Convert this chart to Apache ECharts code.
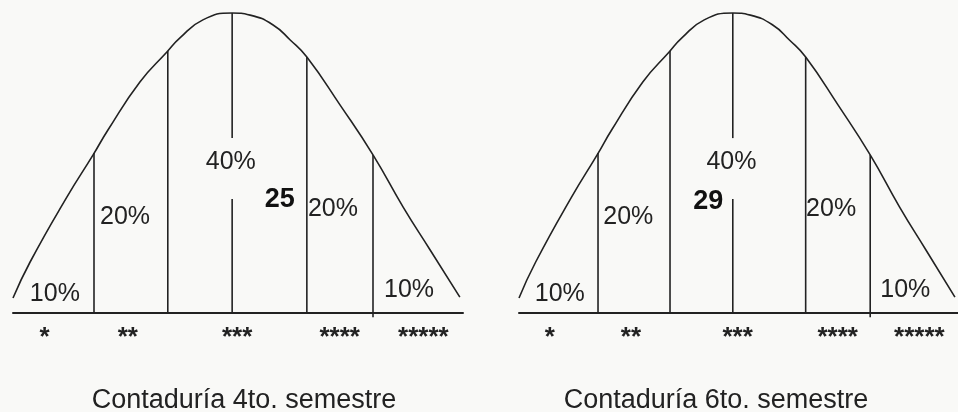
<!DOCTYPE html>
<html>
<head>
<meta charset="utf-8">
<script src="https://cdn.jsdelivr.net/npm/echarts@6/dist/echarts.min.js"></script>
<style>
  html, body { margin: 0; padding: 0; background: #f9f9f7; }
  #chart { width: 958px; height: 412px; }
</style>
</head>
<body>
<div id="chart"></div>
<script>
// bell curve (x: % of base width, y: % of peak height)
const curveX = [0, 3.8, 12, 17.8, 21.1, 28.2, 34.2, 37.1, 42.2, 48.7, 52.7, 57.8, 61.6, 65.3, 72.7, 80, 86.7, 92.7, 99.3];
const curveY = [5, 17, 38.7, 52.7, 61, 77, 87, 91.7, 97.7, 100, 99.3, 96, 91, 85.3, 69.3, 52.7, 35.3, 21, 5.3];

// dividers between the bands
const dividerX = [18, 34.4, 48.7, 65.3, 80];
const dividerTop = [53.3, 87.3, 100, 85.3, 52.7];
const dividerBase = [0, 0, 0, 0, -1.4];
const centerGap = [38, 58.3];   // the middle line is broken around "40%"

// band labels
const bandLabels = ['10%', '20%', '40%', '20%', '10%'];
const bandX = [9.3, 24.9, 48.4, 71.1, 88];
const bandY = [6.3, 32, 50.3, 34.7, 7.7];

// star ticks under the base line
const starX = [7, 25.5, 49.8, 72.6, 91.2];
const starLabels = ['*', '**', '***', '****', '*****'];

// one panel per group
const groups = ['Contaduría 4to. semestre', 'Contaduría 6to. semestre'];
const scoreLabels = ['25', '29'];
const scoreX = [59.3, 43.1];
const scoreY = [37.7, 37];

const chart = echarts.init(document.getElementById('chart'));
const ink = '#222';
const font = '"Liberation Sans", Arial, sans-serif';

const grids = [], xAxes = [], yAxes = [], series = [];
const gridLeft = [13, 519];

groups.forEach(function (g, p) {
  grids.push({ left: gridLeft[p], top: 13, width: 450, height: 300 });
  xAxes.push({
    gridIndex: p, type: 'value', min: 0, max: 100,
    splitLine: { show: false },
    axisTick: { show: false },
    axisLine: { show: true, lineStyle: { color: ink, width: 2 } },
    axisLabel: {
      customValues: starX,
      margin: 12,
      color: ink,
      fontSize: 26,
      fontFamily: font,
      fontWeight: 'bold',
      formatter: function (v) {
        const i = starX.indexOf(v);
        return i >= 0 ? starLabels[i] : '';
      }
    }
  });
  yAxes.push({ gridIndex: p, type: 'value', min: 0, max: 100, show: false });

  series.push({
    type: 'line', xAxisIndex: p, yAxisIndex: p,
    data: curveX.map(function (x, i) { return [x, curveY[i]]; }),
    smooth: 0.5, symbol: 'none', clip: false,
    lineStyle: { color: ink, width: 1.6 }
  });

  dividerX.forEach(function (x, i) {
    let segs = [[dividerBase[i], dividerTop[i]]];
    if (i === 2) segs = [[dividerBase[i], centerGap[0]], [centerGap[1], dividerTop[i]]];
    segs.forEach(function (s) {
      series.push({
        type: 'line', xAxisIndex: p, yAxisIndex: p,
        data: [[x, s[0]], [x, s[1]]],
        symbol: 'none', clip: false,
        lineStyle: { color: ink, width: 1.6 }
      });
    });
  });

  series.push({
    type: 'scatter', xAxisIndex: p, yAxisIndex: p,
    symbolSize: 0, silent: true,
    itemStyle: { opacity: 1 },
    data: bandX.map(function (x, i) { return { value: [x, bandY[i]], name: bandLabels[i] }; }),
    label: {
      show: true, position: 'inside', formatter: '{b}', opacity: 1,
      color: ink, fontSize: 25, fontFamily: font
    }
  });

  series.push({
    type: 'scatter', xAxisIndex: p, yAxisIndex: p,
    symbolSize: 0, silent: true,
    itemStyle: { opacity: 1 },
    data: [{ value: [scoreX[p], scoreY[p]], name: scoreLabels[p] }],
    label: {
      show: true, position: 'inside', formatter: '{b}', opacity: 1,
      color: '#111', fontSize: 27, fontWeight: 'bold', fontFamily: font
    }
  });
});

chart.setOption({
  backgroundColor: '#f9f9f7',
  animation: false,
  grid: grids,
  xAxis: xAxes,
  yAxis: yAxes,
  series: series,
  graphic: groups.map(function (g, p) {
    return {
      type: 'text',
      x: [244, 716][p], y: 401,
      style: {
        text: g, fill: ink, fontSize: 27, fontFamily: font,
        textAlign: 'center', textVerticalAlign: 'middle'
      }
    };
  })
});

window.addEventListener('resize', function () { chart.resize(); });
</script>
</body>
</html>
